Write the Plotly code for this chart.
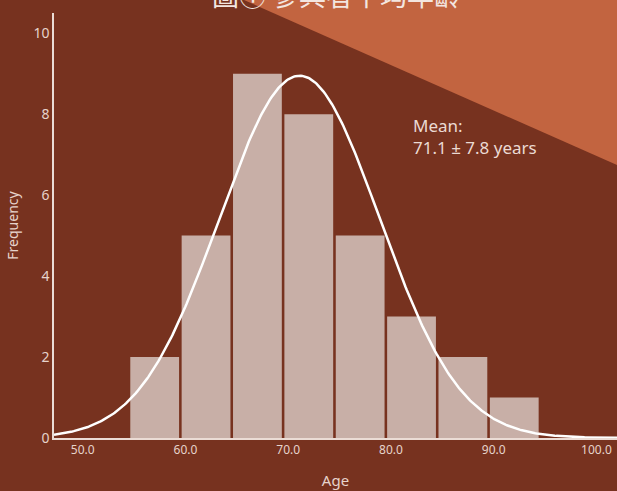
import numpy as np
import plotly.graph_objects as go

# Data
bin_left = [54.5, 59.5, 64.5, 69.5, 74.5, 79.5, 84.5, 89.5]
counts = [2, 5, 9, 8, 5, 3, 2, 1]
bin_width = 5.0
mean_age = 71.1
sd_age = 7.8
x_ticks = [50, 60, 70, 80, 90, 100]
y_ticks = [0, 2, 4, 6, 8, 10]

BG = "#77321F"
ACCENT = "#C26440"
BAR = "#C8AFA7"
TXT = "#E6D3CB"
FONT = "Noto Sans"

centers = [b + bin_width / 2 for b in bin_left]
n_total = sum(counts)

x_range = [47.2, 102.0]
xs = np.linspace(x_range[0], x_range[1], 400)
pdf = n_total * bin_width / (sd_age * np.sqrt(2 * np.pi)) * np.exp(-((xs - mean_age) ** 2) / (2 * sd_age ** 2))

fig = go.Figure()
fig.add_trace(go.Bar(x=centers, y=counts, width=bin_width * 0.95,
                     marker=dict(color=BAR, line=dict(width=0)), hoverinfo="skip"))
fig.add_trace(go.Scatter(x=xs, y=pdf, mode="lines",
                         line=dict(color="white", width=2.5), hoverinfo="skip"))

W, H = 617, 491
ml, mr, mt, mb = 54, 0, 13, 53
pw = W - ml - mr
ph = H - mt - mb

def px_to_paper(px, py):
    return (px - ml) / pw, 1 - (py - mt) / ph

x0, y0 = px_to_paper(244, 0)
x1, y1 = px_to_paper(617, 0)
x2, y2 = px_to_paper(617, 165)
fig.add_shape(type="path", xref="paper", yref="paper",
              path=f"M {x0} {y0} L {x1} {y1} L {x2} {y2} Z",
              fillcolor=ACCENT, line=dict(width=0), layer="below")

tx, ty = px_to_paper(336, -6)
fig.add_annotation(text="圖① 參與者平均年齡", xref="paper", yref="paper",
                   x=tx, y=ty, xanchor="center", yanchor="middle", showarrow=False,
                   font=dict(family="Noto Sans CJK TC", size=27, color="#F3E6E0"))

fig.add_annotation(text="Mean:<br>71.1 ± 7.8 years", x=81.9, y=7.46,
                   xanchor="left", yanchor="middle", align="left", showarrow=False,
                   font=dict(family=FONT, size=17, color="#EBDAD3"))

fig.update_layout(
    width=W, height=H,
    margin=dict(l=ml, r=mr, t=mt, b=mb),
    paper_bgcolor=BG, plot_bgcolor="rgba(0,0,0,0)",
    showlegend=False,
    font=dict(family=FONT, color=TXT, size=13),
    xaxis=dict(range=x_range, tickvals=x_ticks, ticktext=[f"{v:.1f}" for v in x_ticks],
               showgrid=False, zeroline=False, showline=True, linecolor="#EBDCD5", linewidth=1.5,
               ticks="", tickfont=dict(size=12, color=TXT),
               title=dict(text="Age", font=dict(size=15, color=TXT), standoff=18)),
    yaxis=dict(range=[0, 10.5], tickvals=y_ticks, showgrid=False, zeroline=False,
               showline=True, linecolor="#EBDCD5", linewidth=1.5, ticks="",
               tickfont=dict(size=14, color=TXT),
               title=dict(text="Frequency", font=dict(size=14, color=TXT), standoff=12)),
)

fig.write_html("out.html", config={"displayModeBar": False},
               post_script="document.body.style.margin='0';document.body.style.overflow='hidden';")
